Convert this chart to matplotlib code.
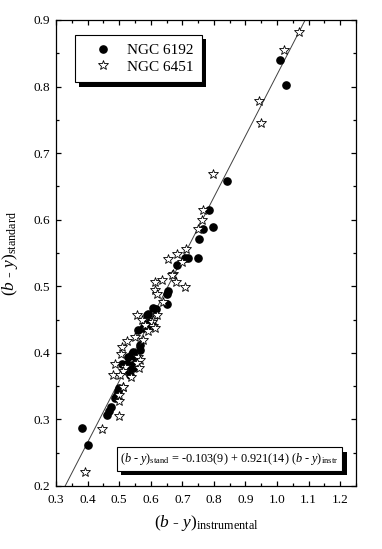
import matplotlib
matplotlib.use("Agg")
import matplotlib.pyplot as plt
import numpy as np
from matplotlib.patches import Rectangle
from matplotlib.transforms import IdentityTransform
from matplotlib.ticker import MultipleLocator

plt.rcParams['font.family'] = ['Liberation Serif', 'DejaVu Serif']
plt.rcParams['mathtext.fontset'] = 'custom'
plt.rcParams['mathtext.rm'] = 'Liberation Serif'
plt.rcParams['mathtext.it'] = 'Liberation Serif:italic'

# NGC 6192 (filled circles)
ngc6192_x = [1.009, 1.029, 0.841, 0.786, 0.765, 0.797, 0.753, 0.719, 0.751, 0.709,
             0.682, 0.656, 0.651, 0.651, 0.608, 0.617, 0.592, 0.598, 0.587, 0.587,
             0.598, 0.577, 0.561, 0.566, 0.540, 0.545, 0.550, 0.566, 0.529, 0.508,
             0.524, 0.540, 0.545, 0.529, 0.534, 0.497, 0.492, 0.487, 0.501, 0.494,
             0.474, 0.469, 0.463, 0.381, 0.402]
ngc6192_y = [0.840, 0.802, 0.658, 0.614, 0.586, 0.589, 0.571, 0.542, 0.543, 0.542,
             0.532, 0.493, 0.489, 0.473, 0.468, 0.466, 0.459, 0.447, 0.444, 0.457,
             0.442, 0.437, 0.434, 0.412, 0.399, 0.402, 0.394, 0.404, 0.394, 0.384,
             0.384, 0.382, 0.377, 0.374, 0.367, 0.342, 0.337, 0.332, 0.347, 0.335,
             0.319, 0.313, 0.307, 0.287, 0.261]

# NGC 6451 (open stars)
ngc6451_x = [1.071, 1.022, 0.944, 0.949, 0.797, 0.767, 0.762, 0.751, 0.712, 0.684,
             0.656, 0.698, 0.672, 0.667, 0.680, 0.614, 0.637, 0.709, 0.614, 0.619,
             0.640, 0.556, 0.572, 0.608, 0.619, 0.603, 0.608, 0.614, 0.582, 0.592,
             0.550, 0.524, 0.575, 0.508, 0.505, 0.561, 0.566, 0.487, 0.558, 0.519,
             0.564, 0.513, 0.482, 0.503, 0.537, 0.511, 0.513, 0.501, 0.499, 0.501,
             0.447, 0.392]
ngc6451_y = [0.882, 0.855, 0.778, 0.745, 0.669, 0.614, 0.599, 0.586, 0.556, 0.548,
             0.541, 0.536, 0.519, 0.517, 0.507, 0.507, 0.509, 0.499, 0.495, 0.489,
             0.477, 0.457, 0.450, 0.450, 0.457, 0.447, 0.440, 0.437, 0.442, 0.433,
             0.424, 0.418, 0.419, 0.409, 0.398, 0.394, 0.389, 0.384, 0.385, 0.379,
             0.377, 0.372, 0.367, 0.367, 0.364, 0.349, 0.348, 0.337, 0.327, 0.305,
             0.285, 0.221]

fit_intercept = -0.103
fit_slope = 0.921

DPI = 100
fig = plt.figure(figsize=(3.82, 5.49), dpi=DPI)
ax = fig.add_axes([56/382, 63/549, 300/382, 466/549])

xl = np.linspace(0.3, 1.25, 100)
ax.plot(xl, fit_intercept + fit_slope*xl, color='#404040', lw=0.7, zorder=2)

ax.plot(ngc6192_x, ngc6192_y, 'o', ms=5.2, mfc='black', mec='black', ls='none',
        label='NGC 6192', zorder=3)
ax.plot(ngc6451_x, ngc6451_y, '*', ms=7, mfc='white', mec='black', mew=0.6,
        ls='none', label='NGC 6451', zorder=4)

ax.set_xlim(0.3, 1.25)
ax.set_ylim(0.2, 0.9)
ax.xaxis.set_major_locator(MultipleLocator(0.1))
ax.xaxis.set_minor_locator(MultipleLocator(0.05))
ax.yaxis.set_major_locator(MultipleLocator(0.1))
ax.yaxis.set_minor_locator(MultipleLocator(0.05))
ax.xaxis.set_major_formatter(plt.FuncFormatter(lambda v, p: f'{v:.1f}'))
ax.yaxis.set_major_formatter(plt.FuncFormatter(lambda v, p: f'{v:.1f}'))
ax.tick_params(which='both', direction='in', top=True, right=True, labelsize=9.5,
               width=0.9)
ax.tick_params(which='major', length=3.5)
ax.tick_params(which='minor', length=2)
ax.tick_params(axis='x', pad=6)
ax.tick_params(axis='y', pad=4)
for s in ax.spines.values():
    s.set_linewidth(0.9)

ax.set_xlabel(r'$(b\ $-$\ y)_{\mathrm{instrumental}}$', fontsize=12.5, labelpad=5)
ax.set_ylabel(r'$(b\ $-$\ y)_{\mathrm{standard}}$', fontsize=12.5, labelpad=10)

leg = ax.legend(loc='upper left', bbox_to_anchor=(0.063, 0.968), fontsize=11,
                frameon=True, fancybox=False, edgecolor='black', framealpha=1,
                borderpad=0.55, handletextpad=0.25, labelspacing=0.2,
                handlelength=2.6, borderaxespad=0)
leg.get_frame().set_linewidth(0.8)
leg.set_zorder(10)

eq = ax.text(0.578, 0.058,
             r'$(b\ $-$\ y)_{\mathrm{stand}}$ = -0.103(9) + 0.921(14) $(b\ $-$\ y)_{\mathrm{instr}}$',
             transform=ax.transAxes, ha='center', va='center', fontsize=8.8, zorder=10,
             bbox=dict(boxstyle='square,pad=0.3', fc='white', ec='black', lw=0.8))

fig.canvas.draw()
r = fig.canvas.get_renderer()
off = 4.5
for bb in (leg.get_frame().get_window_extent(r), eq.get_bbox_patch().get_window_extent(r)):
    sh = Rectangle((bb.x0 + off, bb.y0 - off), bb.width, bb.height,
                   transform=IdentityTransform(), fc='black', ec='none', zorder=9,
                   clip_on=False)
    ax.add_artist(sh)

fig.savefig('out.png', dpi=DPI)
